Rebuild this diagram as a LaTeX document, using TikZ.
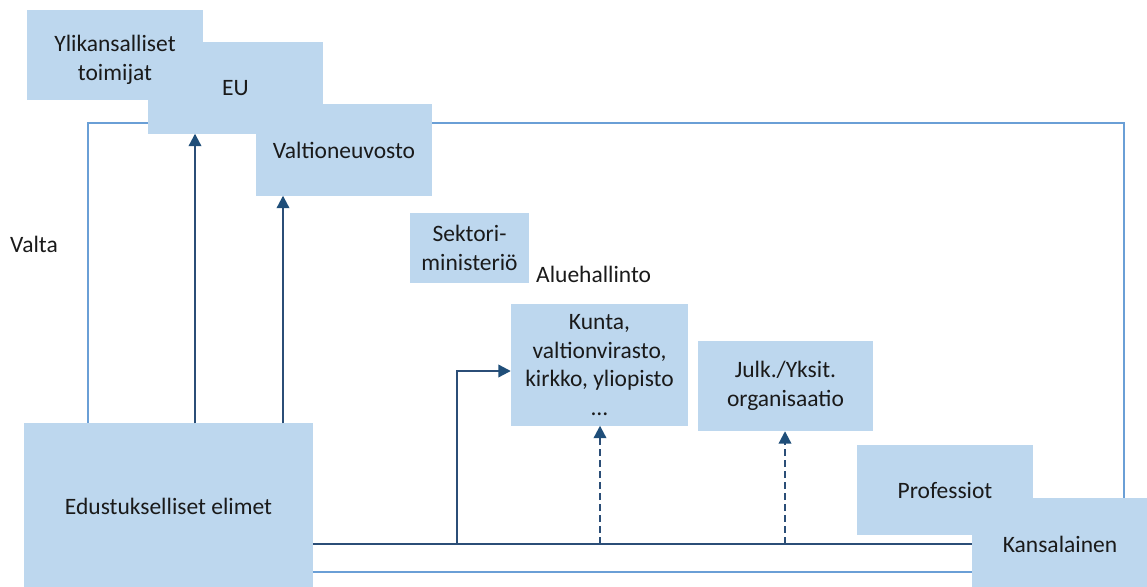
\documentclass[tikz,border=0pt]{standalone}
\usepackage{fontspec}
\setmainfont{Carlito}
\usetikzlibrary{arrows.meta}
\definecolor{boxfill}{HTML}{BDD7EE}
\definecolor{lightline}{HTML}{6A9FD6}
\definecolor{darkline}{HTML}{2B4E77}
\definecolor{arrowtip}{HTML}{1F4E79}
\definecolor{txt}{HTML}{1A1A1A}
\pgfdeclarelayer{loops}
\pgfdeclarelayer{fills}
\pgfsetlayers{loops,fills,main}
\begin{document}
\begin{tikzpicture}[x=1pt,y=-1pt,
  every node/.style={text=txt,font=\fontsize{23.5}{28.5}\selectfont},
  box/.style={inner sep=0pt,align=center},
  plain/.style={inner sep=0pt},
  lightconn/.style={draw=lightline,line width=2.4pt},
  darkconn/.style={draw=darkline,line width=2.2pt},
  arr/.style={darkconn,-{Triangle[width=12.5pt,length=12.5pt,color=arrowtip]}},
  dasharr/.style={arr,dash pattern=on 7pt off 4pt}]
\useasboundingbox (0,0) rectangle (1147,586);

% boxes (text on the main layer, fills behind)
\node[box,minimum width=176,minimum height=90,text depth=0pt] (ylik) at (115,58) {Ylikansalliset\\toimijat};
\node[box,minimum width=175,minimum height=91] (eu) at (235.5,88) {EU};
\node[box,minimum width=176,minimum height=91] (valt) at (344,150) {Valtioneuvosto};
\node[box,minimum width=119,minimum height=69] (sekt) at (469.5,248) {Sektori-\\ministeriö};
\node[box,minimum width=177,minimum height=121] (kunta) at (599.5,365) {Kunta,\\valtionvirasto,\\kirkko, yliopisto\\…};
\node[box,minimum width=175,minimum height=90] (julk) at (785.5,386) {Julk./Yksit.\\organisaatio};
\node[box,minimum width=289,minimum height=165] (edu) at (168.5,506) {Edustukselliset elimet};
\node[box,minimum width=176,minimum height=89] (prof) at (945,490) {Professiot};
\node[box,minimum width=176,minimum height=91] (kans) at (1060,544) {Kansalainen};

% free labels
\node[plain] (valta) at (34,244) {Valta};
\node[plain,anchor=west] (alue) at (536,274) {Aluehallinto};

% box fills, stacked in drawing order
\begin{pgfonlayer}{fills}
  \fill[boxfill] (27,10) rectangle (203,100);
  \fill[boxfill] (eu.north west) rectangle (eu.south east);
  \fill[boxfill] (valt.north west) rectangle (valt.south east);
  \fill[boxfill] (sekt.north west) rectangle (sekt.south east);
  \fill[boxfill] (kunta.north west) rectangle (kunta.south east);
  \fill[boxfill] (julk.north west) rectangle (julk.south east);
  \fill[boxfill] (edu.north west) rectangle (edu.south east);
  \fill[boxfill] (prof.north west) rectangle (prof.south east);
  \fill[boxfill] (kans.north west) rectangle (kans.south east);
\end{pgfonlayer}

% light feedback loop, running behind the boxes
\coordinate (looptl) at (88,123);
\coordinate (looptr) at (1124,123);
\begin{pgfonlayer}{loops}
  \draw[lightconn] (looptl |- edu.north) -- (looptl) -- (looptr) -- (looptr |- kans.north);
\end{pgfonlayer}
\draw[lightconn] (edu.east |- 0,572) -- (kans.west |- 0,572);

% dark lines and arrows
\coordinate (bus) at (457,544);
\coordinate (bend) at (457,371);
\draw[darkconn] (edu.east |- bus) -- (kans.west |- bus);
\draw[arr] (195,0 |- edu.north) -- (195,0 |- eu.south);
\draw[arr] (283,0 |- edu.north) -- (283,0 |- valt.south);
\draw[arr] (bus) -- (bend) -- (kunta.west |- bend);
\draw[dasharr] (600,0 |- bus) -- (600,0 |- kunta.south);
\draw[dasharr] (785,0 |- bus) -- (785,0 |- julk.south);
\end{tikzpicture}
\end{document}
